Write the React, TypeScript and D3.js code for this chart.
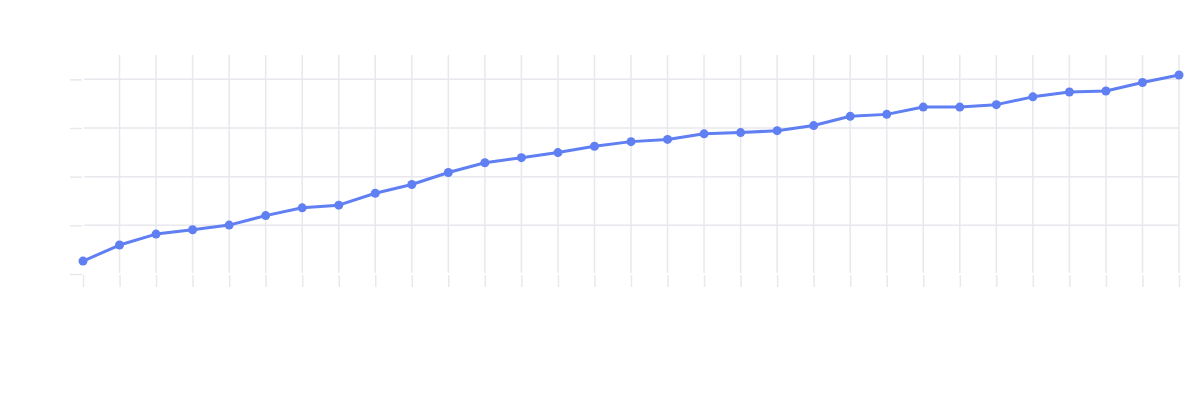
import React, { useRef, useEffect } from 'react';
import * as d3 from 'd3';

// one point per period
const periods: number[] = d3.range(31);
const values: number[] = [
  5.3, 11.9, 16.4, 18.2, 20.1, 24.0, 27.2, 28.3, 33.2, 36.8,
  41.7, 45.7, 47.8, 49.9, 52.5, 54.4, 55.3, 57.6, 58.1, 58.9,
  61.0, 64.8, 65.6, 68.6, 68.6, 69.6, 72.8, 74.8, 75.2, 78.7, 81.8,
];
const yTicks: number[] = [0, 20, 40, 60, 80];

const width = 1200;
const height = 400;
const gridColor = '#e8e8ee';
const lineColor = '#5f7ff2';

const App: React.FC = () => {
  const svgRef = useRef<SVGSVGElement>(null);

  useEffect(() => {
    if (!svgRef.current) return;
    const svg = d3.select(svgRef.current);
    svg.selectAll('*').remove();

    const margin = { top: 55, right: 21, bottom: 126, left: 83 };

    const x = d3.scalePoint<number>()
      .domain(periods)
      .range([margin.left, width - margin.right]);

    const y = d3.scaleLinear()
      .domain([0, 90])
      .range([height - margin.bottom, margin.top]);

    const plotBottom = height - margin.bottom;
    const plotRight = width - margin.right;

    // Horizontal grid lines (skip the baseline)
    svg.append('g')
      .selectAll('line')
      .data(yTicks.filter(t => t > 0))
      .enter().append('line')
      .attr('x1', margin.left + 1)
      .attr('x2', plotRight)
      .attr('y1', d => y(d))
      .attr('y2', d => y(d))
      .attr('stroke', gridColor)
      .attr('stroke-width', 1.5);

    // Vertical grid lines (skip the first one)
    svg.append('g')
      .selectAll('line')
      .data(periods.slice(1))
      .enter().append('line')
      .attr('x1', d => x(d) as number)
      .attr('x2', d => x(d) as number)
      .attr('y1', margin.top)
      .attr('y2', plotBottom - 1)
      .attr('stroke', gridColor)
      .attr('stroke-width', 1.5);

    // Y axis ticks, no labels
    const yAxis = svg.append('g')
      .attr('transform', `translate(${margin.left - 1},0)`)
      .call(d3.axisLeft(y).tickValues(yTicks).tickSize(12).tickFormat(() => ''));
    yAxis.select('.domain').remove();
    yAxis.selectAll('line').attr('stroke', gridColor).attr('stroke-width', 1.5);

    // X axis ticks, no labels
    const xAxis = svg.append('g')
      .attr('transform', `translate(0,${plotBottom + 1})`)
      .call(d3.axisBottom(x).tickSize(12).tickFormat(() => ''));
    xAxis.select('.domain').remove();
    xAxis.selectAll('line').attr('stroke', gridColor).attr('stroke-width', 1.5);

    const line = d3.line<number>()
      .x((_, i) => x(periods[i]) as number)
      .y(d => y(d));

    svg.append('path')
      .datum(values)
      .attr('fill', 'none')
      .attr('stroke', lineColor)
      .attr('stroke-width', 3)
      .attr('stroke-linejoin', 'round')
      .attr('d', line);

    svg.append('g')
      .selectAll('circle')
      .data(values)
      .enter().append('circle')
      .attr('cx', (_, i) => x(periods[i]) as number)
      .attr('cy', d => y(d))
      .attr('r', 4.5)
      .attr('fill', lineColor);
  }, []);

  return (
    <div style={{ position: 'absolute', left: 0, top: 0 }}>
      <svg ref={svgRef} width={width} height={height} style={{ display: 'block', background: '#fff' }}></svg>
    </div>
  );
};

export default App;
